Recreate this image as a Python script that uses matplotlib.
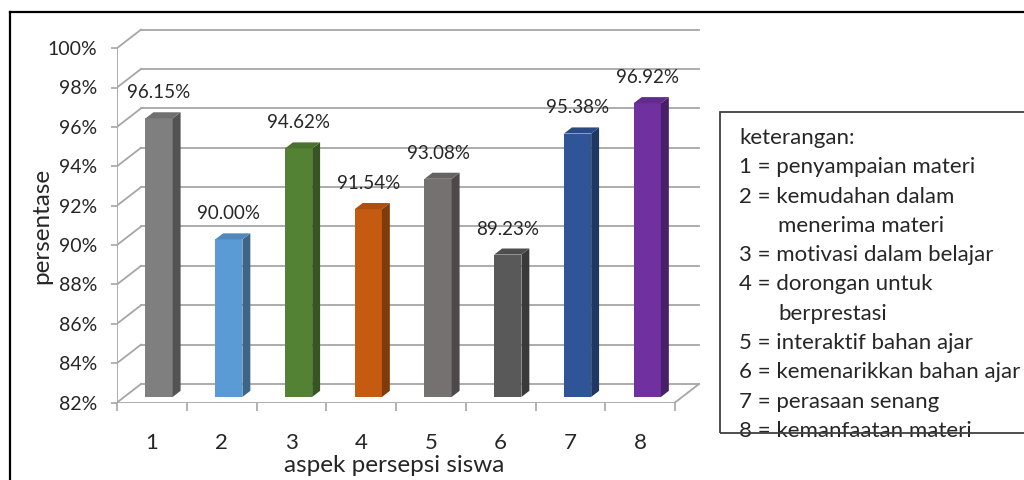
import matplotlib
matplotlib.use("Agg")
import matplotlib.pyplot as plt
from matplotlib.patches import Polygon, Rectangle
from matplotlib.lines import Line2D
import matplotlib.colors as mcolors

# ----------------------------
# DATA
# ----------------------------
categories = ["1", "2", "3", "4", "5", "6", "7", "8"]
values = [96.15, 90.00, 94.62, 91.54, 93.08, 89.23, 95.38, 96.92]
bar_colors = ["#7f7f7f", "#5b9bd5", "#548235", "#c55a11",
              "#767171", "#595959", "#2f5597", "#7030a0"]
yticks = [82, 84, 86, 88, 90, 92, 94, 96, 98, 100]

legend_title = "keterangan:"
legend_lines = [
    ("1 = penyampaian materi", False),
    ("2 = kemudahan dalam", False),
    ("menerima materi", True),
    ("3 = motivasi dalam belajar", False),
    ("4 = dorongan untuk", False),
    ("berprestasi", True),
    ("5 = interaktif bahan ajar", False),
    ("6 = kemenarikkan bahan ajar", False),
    ("7 = perasaan senang", False),
    ("8 = kemanfaatan materi", False),
]

# ----------------------------
# STYLE / 3D GEOMETRY
# ----------------------------
plt.rcParams['font.family'] = ['Lato', 'DejaVu Sans']
TXT = "#262626"
GRID = "#a6a6a6"
DX, DY = 0.344, 0.94      # depth vector (data units)
F = 0.30                  # bar front depth fraction
BD = 0.33                 # bar depth fraction
BW = 0.39                 # bar width

W, H = 1024, 480
fig = plt.figure(figsize=(W / 100, H / 100), dpi=100)
ax = fig.add_axes([117 / W, (H - 402.5) / H, 585.9 / W, 378 / H])
ax.set_xlim(0, 8.4)
ax.set_ylim(82, 101.2)
for s in ax.spines.values():
    s.set_visible(False)

# walls / gridlines
for v in yticks:
    ax.add_line(Line2D([DX, 8 + DX], [v + DY, v + DY], color=GRID, lw=1.3, zorder=1))
    ax.add_line(Line2D([0, DX], [v, v + DY], color=GRID, lw=1.3, zorder=1))
ax.add_line(Line2D([0, 0], [82, 100], color=GRID, lw=1.3, zorder=1))
ax.add_line(Line2D([0, 8], [82, 82], color=GRID, lw=1.3, zorder=1))
ax.add_line(Line2D([8, 8 + DX], [82, 82 + DY], color=GRID, lw=1.3, zorder=1))

# y ticks on front axis
ax.set_yticks(yticks)
ax.set_yticklabels([f"{v}%" for v in yticks])
ax.tick_params(axis='y', length=4, width=1.2, color=GRID, pad=10,
               labelsize=14, labelcolor=TXT)

# x ticks: marks at slot boundaries, labels at centers
ax.set_xticks(range(0, 9))
ax.set_xticklabels([])
ax.set_xticks([i + 0.5 for i in range(len(categories))], minor=True)
ax.set_xticklabels(categories, minor=True)
ax.tick_params(axis='x', which='major', length=6, width=1.2, color=GRID)
ax.tick_params(axis='x', which='minor', length=0, pad=22, labelsize=16, labelcolor=TXT)

# bars
for i, (v, c) in enumerate(zip(values, bar_colors)):
    x0 = i + (1 - BW) / 2 + F * DX
    x1 = x0 + BW
    y0 = 82 + F * DY
    y1 = v + F * DY
    bx, by = BD * DX, BD * DY
    rgb = mcolors.to_rgb(c)
    top_c = tuple(k * 0.88 for k in rgb)
    side_c = tuple(k * 0.65 for k in rgb)
    ax.add_patch(Polygon([(x0, y0), (x1, y0), (x1, y1), (x0, y1)],
                         closed=True, fc=c, ec='none', zorder=3))
    ax.add_patch(Polygon([(x1, y0), (x1 + bx, y0 + by), (x1 + bx, y1 + by), (x1, y1)],
                         closed=True, fc=side_c, ec='none', zorder=3))
    ax.add_patch(Polygon([(x0, y1), (x1, y1), (x1 + bx, y1 + by), (x0 + bx, y1 + by)],
                         closed=True, fc=top_c, ec='none', zorder=3))
    ax.text((x0 + x1) / 2, y1 + 1.3, f"{v:.2f}%", ha='center', va='center',
            fontsize=13.5, color=TXT, zorder=4)

ax.set_ylabel("persentase", fontsize=17.5, color=TXT)
ax.yaxis.set_label_coords((42 - 117) / 585.9, (402.5 - 226) / 378)
ax.set_xlabel("aspek persepsi siswa", fontsize=17.5, color=TXT)
ax.xaxis.set_label_coords((394 - 117) / 585.9, (402.5 - 466) / 378)
ax.xaxis.label.set_va('center')
ax.yaxis.label.set_va('center')


def fx(px):
    return px / W


def fy(py):
    return 1 - py / H


# legend box (runs past the right edge)
fig.patches.append(Rectangle((fx(720), fy(433)), fx(340), fy(112) - fy(433),
                             transform=fig.transFigure, fill=False,
                             ec="#404040", lw=1.3, zorder=5))
fig.text(fx(739), fy(138), legend_title, fontsize=16, color=TXT, va='center')
for k, (line, indent) in enumerate(legend_lines):
    fig.text(fx(778 if indent else 739), fy(138 + 29.3 * (k + 1)), line,
             fontsize=16, color=TXT, va='center')

# outer frame
fig.lines.append(Line2D([fx(10), fx(10)], [fy(480), fy(12)], transform=fig.transFigure,
                        color='black', lw=1.6))
fig.lines.append(Line2D([fx(10), fx(1024)], [fy(12), fy(12)], transform=fig.transFigure,
                        color='black', lw=1.6))

fig.savefig("out.png", dpi=100, facecolor='white')
